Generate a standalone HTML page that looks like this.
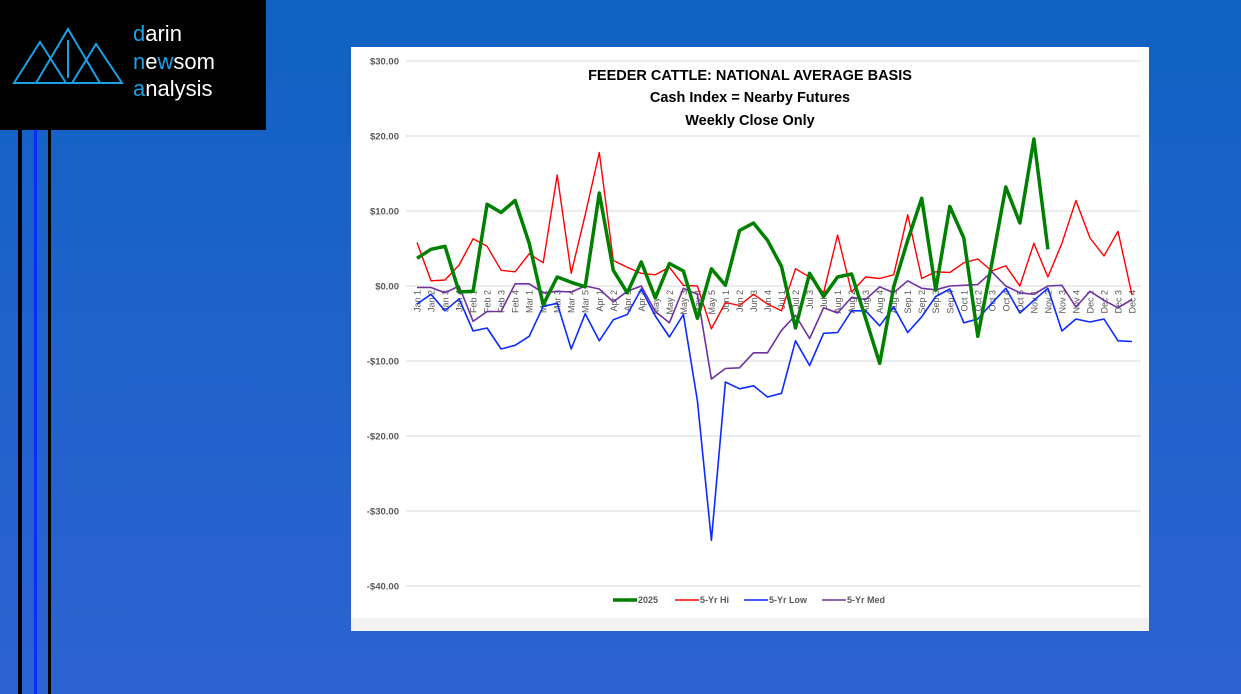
<!DOCTYPE html>
<html><head><meta charset="utf-8"><style>
html,body{margin:0;padding:0;width:1241px;height:694px;overflow:hidden;background:linear-gradient(180deg,#0f62c2 0%,#1f62cc 50%,#2d62d2 100%);font-family:"Liberation Sans",sans-serif}
#logo{position:absolute;left:0;top:0;width:266px;height:130px;background:#000}
.vl{position:absolute;top:130px;height:564px}
#chart{position:absolute;left:351px;top:47px;width:798px;height:584px;background:#f2f2f2}
</style></head><body>
<div id="logo">
<svg width="266" height="130" style="position:absolute;left:0;top:0">
<g fill="none" stroke="#1aa0e6" stroke-width="2">
<polygon points="14,83 40,42 66,83"/>
<polygon points="36,83 68,29 100,83"/>
<polygon points="72,83 96,44 122,83"/>
<line x1="68" y1="40" x2="68" y2="78"/>
</g>
<text x="133" y="41" font-size="22" fill="#fff" font-family="Liberation Sans,sans-serif"><tspan fill="#1aa0e6">d</tspan>arin</text>
<text x="133" y="69" font-size="22" fill="#fff" font-family="Liberation Sans,sans-serif"><tspan fill="#1aa0e6">n</tspan>e<tspan fill="#1aa0e6">w</tspan>som</text>
<text x="133" y="96" font-size="22" fill="#fff" font-family="Liberation Sans,sans-serif"><tspan fill="#1aa0e6">a</tspan>nalysis</text>
</svg></div>
<div class="vl" style="left:18px;width:4px;background:#000"></div>
<div class="vl" style="left:34px;width:3px;background:#0a2cff"></div>
<div class="vl" style="left:48px;width:3px;background:#000"></div>
<div id="chart"><div style="position:absolute;left:0;top:0;width:798px;height:571px;background:#fff"></div></div>
<svg id="s" width="1241" height="694" style="position:absolute;left:0;top:0"></svg>
<script>
var labels=[],m=[["Jan",4],["Feb",4],["Mar",5],["Apr",4],["May",5],["Jun",4],["Jul",4],["Aug",5],["Sep",4],["Oct",5],["Nov",4],["Dec",4]];
m.forEach(function(a){for(var i=1;i<=a[1];i++)labels.push(a[0]+" "+i)});
var X=function(i){return 417+i*14.02},Y=function(v){return 286-v*7.5};
var g=[3.7,4.9,5.3,-0.8,-0.7,10.9,9.8,11.4,5.7,-2.5,1.2,0.5,-0.1,12.4,2.1,-0.9,3.2,-1.6,3.0,2.0,-4.3,2.3,0.1,7.4,8.4,6.1,2.6,-5.6,1.7,-1.4,1.2,1.6,-4.3,-10.3,-0.1,6.1,11.7,-0.5,10.6,6.4,-6.7,3.0,13.2,8.4,19.6,4.9];
var r=[5.8,0.7,0.8,2.8,6.3,5.3,2.1,1.9,4.3,3.1,14.8,1.7,9.5,17.8,3.4,2.5,1.7,1.5,2.5,0.1,0,-5.7,-2.2,-2.6,-1.1,-2.4,-3.3,2.3,1.2,-0.9,6.8,-0.8,1.2,1.0,1.5,9.5,1.0,1.9,1.8,3.1,3.6,2.0,2.7,0.0,5.7,1.2,5.7,11.4,6.4,4.0,7.3,-1.2];
var b=[-2.4,-1.1,-3.3,-1.7,-6.0,-5.6,-8.4,-7.9,-6.7,-2.7,-2.3,-8.4,-3.7,-7.3,-4.5,-3.8,-0.4,-4.0,-6.8,-3.8,-15.3,-33.9,-12.8,-13.7,-13.3,-14.8,-14.3,-7.3,-10.6,-6.3,-6.2,-3.3,-3.3,-5.3,-2.8,-6.2,-4.1,-1.4,-0.4,-4.9,-4.4,-2.3,-0.3,-3.6,-1.9,-0.3,-6.0,-4.4,-4.8,-4.4,-7.3,-7.4];
var p=[-0.2,-0.2,-0.9,0,-4.7,-3.4,-3.4,0.3,0.3,-0.9,-0.7,-0.8,0,-0.4,-2.1,-0.7,0,-3.4,-4.9,-0.3,-1.1,-12.4,-11.0,-10.9,-8.9,-8.9,-5.9,-3.9,-7.0,-2.9,-3.6,-1.5,-1.8,-0.1,-0.9,0.7,-0.3,-0.5,0,0.1,0.2,1.9,0,-0.9,-1.1,0,0.1,-2.8,-0.7,-1.9,-2.9,-1.8];
var h="";
for(var v=30;v>=-40;v-=10){var y=Y(v);h+='<line x1="406" x2="1141" y1="'+y+'" y2="'+y+'" stroke="#d9d9d9" stroke-width="1"/>';
h+='<text x="399" y="'+(y+3.5)+'" text-anchor="end" font-size="9.5" font-weight="bold" fill="#595959">'+(v<0?'-$':'$')+Math.abs(v).toFixed(2)+'</text>';}
labels.forEach(function(l,i){var x=X(i)+3.5;h+='<text transform="translate('+x+',290) rotate(-90)" text-anchor="end" font-size="9" fill="#595959">'+l+'</text>';});
function pl(d,c,w){return '<polyline fill="none" stroke="'+c+'" stroke-width="'+w+'" stroke-linejoin="round" points="'+d.map(function(v,i){return X(i).toFixed(1)+','+Y(v).toFixed(1)}).join(' ')+'"/>';}
h+=pl(b,"#0a2cff",1.6)+pl(p,"#7030a0",1.6)+pl(r,"#ff0000",1.4)+pl(g,"#008000",3.5);
h+='<text x="750" y="80" text-anchor="middle" font-size="14.5" font-weight="bold" fill="#000">FEEDER CATTLE: NATIONAL AVERAGE BASIS</text>';
h+='<text x="750" y="102" text-anchor="middle" font-size="14.5" font-weight="bold" fill="#000">Cash Index = Nearby Futures</text>';
h+='<text x="750" y="125" text-anchor="middle" font-size="14.5" font-weight="bold" fill="#000">Weekly Close Only</text>';
var lg=[[613,"#008000",3.5,"2025"],[675,"#ff0000",1.4,"5-Yr Hi"],[744,"#0a2cff",1.6,"5-Yr Low"],[822,"#7030a0",1.6,"5-Yr Med"]];
lg.forEach(function(a){h+='<line x1="'+a[0]+'" x2="'+(a[0]+24)+'" y1="600" y2="600" stroke="'+a[1]+'" stroke-width="'+a[2]+'"/><text x="'+(a[0]+25)+'" y="603" font-size="9" font-weight="bold" fill="#595959">'+a[3]+'</text>';});
document.getElementById("s").innerHTML=h;
</script>
</body></html>
